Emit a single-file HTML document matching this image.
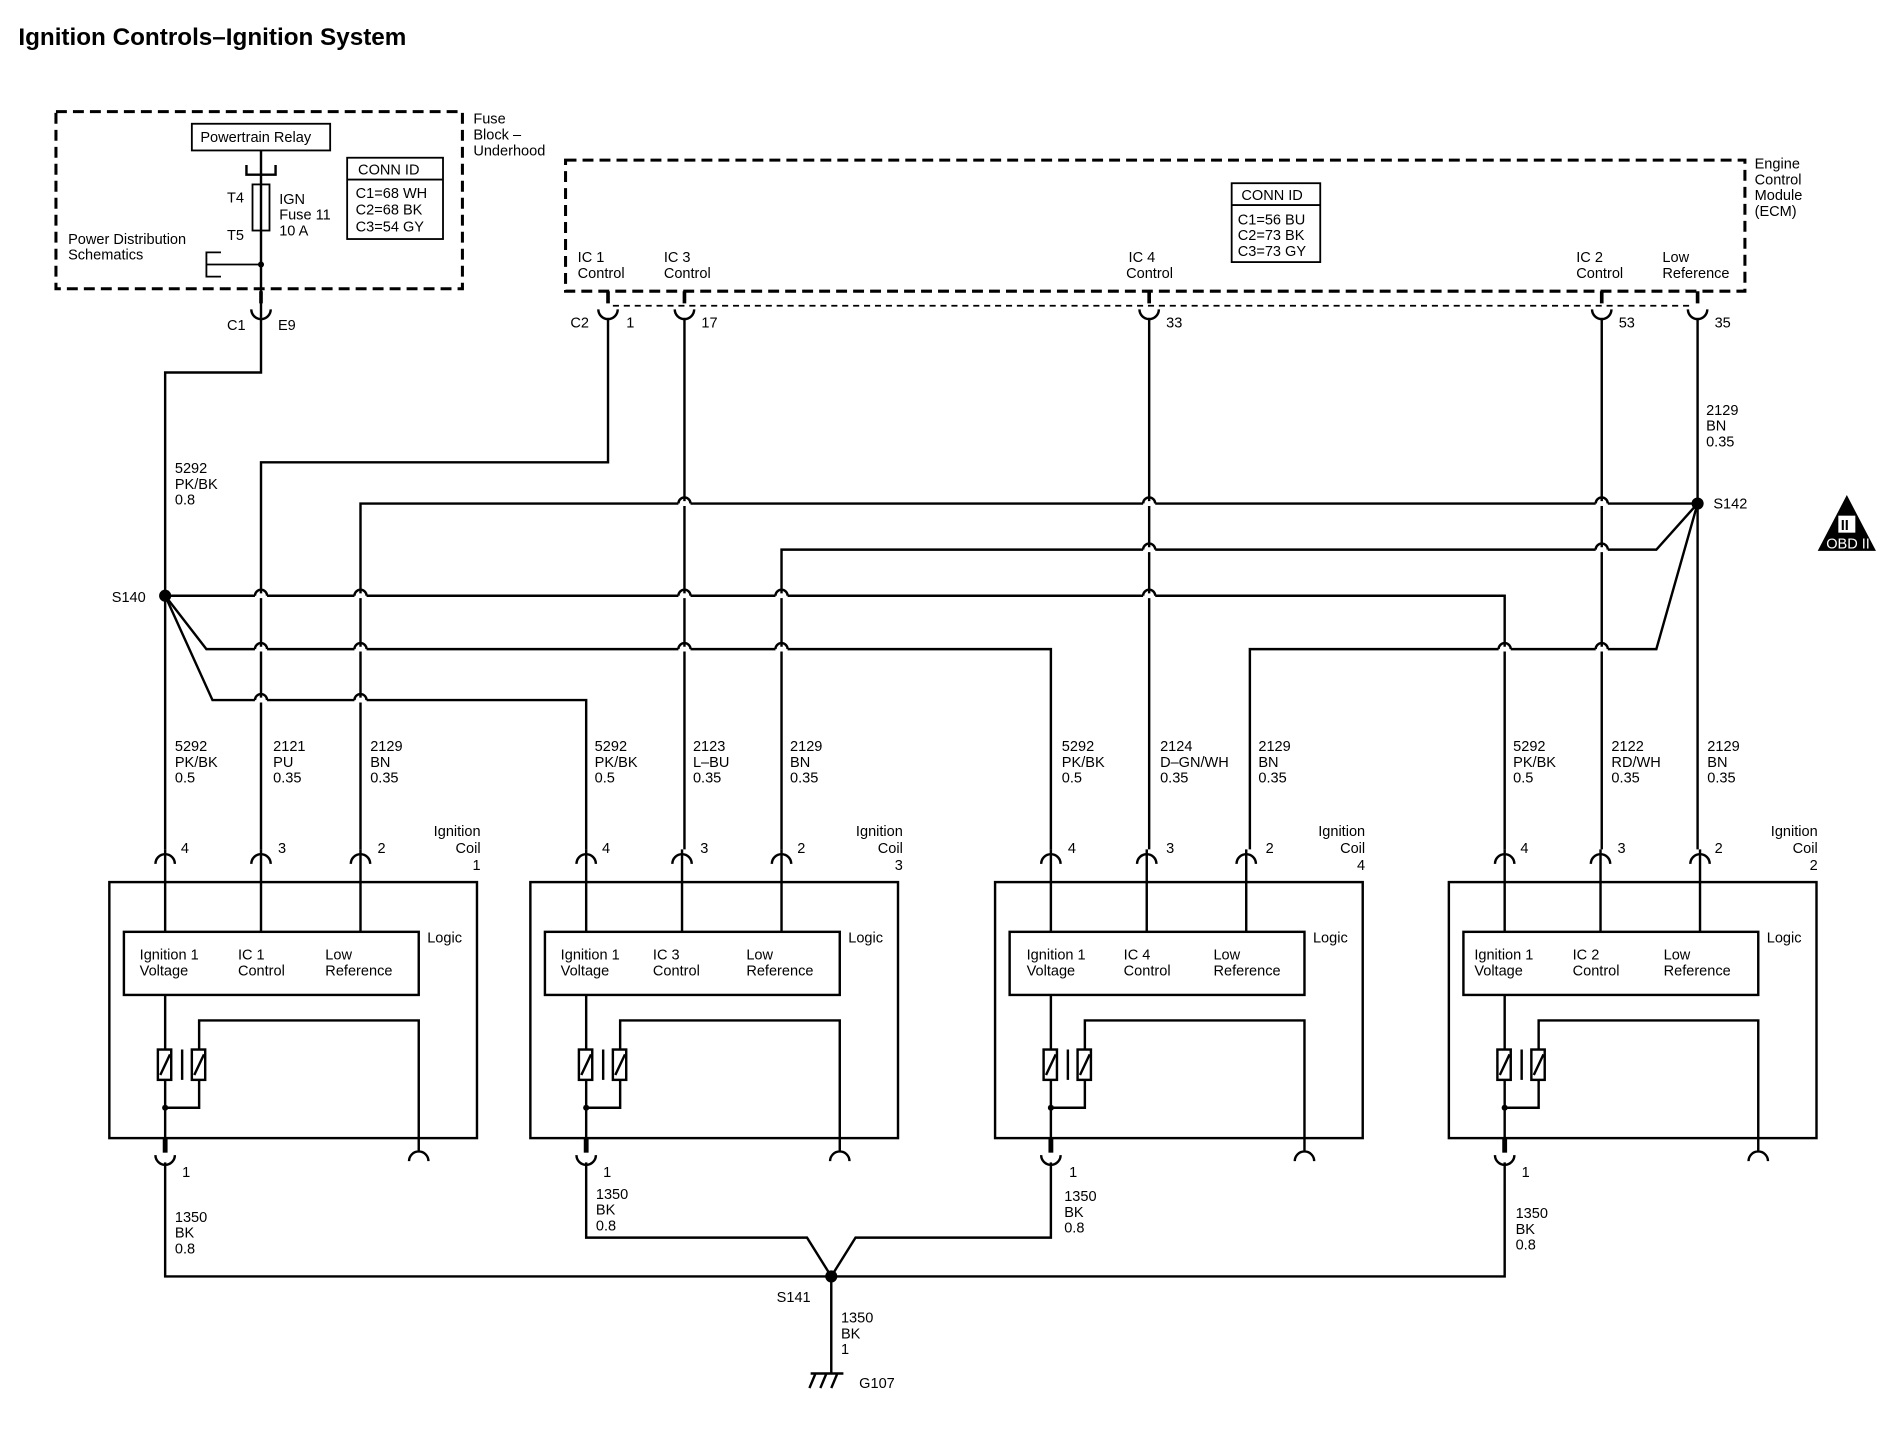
<!DOCTYPE html>
<html><head><meta charset="utf-8"><style>
html,body{margin:0;padding:0;background:#fff}
svg{display:block}
text{font-family:"Liberation Sans",sans-serif;font-size:12px;fill:#000}
.b{font-weight:bold}
</style></head><body>
<svg width="1904" height="1456" viewBox="0 0 1569 1200" xmlns="http://www.w3.org/2000/svg">
<g fill="none" stroke="#000" stroke-width="2">
<rect x="46" y="92" width="335" height="146" stroke-dasharray="9,5" stroke-width="2.5"/>
<rect x="466" y="132" width="972" height="108" stroke-dasharray="9,5" stroke-width="2.5"/>
<line x1="505" y1="252" x2="1395" y2="252" stroke-dasharray="5,4" stroke-width="1.5"/>
<rect x="158" y="102" width="114" height="22" stroke-width="1.5"/>
<rect x="286" y="130" width="79" height="67" stroke-width="1.5"/>
<line x1="286" y1="148" x2="365" y2="148" stroke-width="1.5"/>
<rect x="1015" y="151" width="73" height="65" stroke-width="1.5"/>
<line x1="1015" y1="169" x2="1088" y2="169" stroke-width="1.5"/>
<path d="M203 136 v8 h24 v-8 M215 124 v20"/>
<rect x="208" y="152" width="14" height="38" stroke-width="1.5"/>
<path d="M215 144 V262"/>
<path d="M215 218 H170 M182 208 h-12 v20 h12" stroke-width="1.5"/>
<path d="M207 255 a8 8 0 0 0 16 0 M493 255 a8 8 0 0 0 16 0 M556 255 a8 8 0 0 0 16 0 M939 255 a8 8 0 0 0 16 0 M1312 255 a8 8 0 0 0 16 0 M1391 255 a8 8 0 0 0 16 0"/>
<path d="M215 240 V250 M501 240 V250 M564 240 V250 M947 240 V250 M1320 240 V250 M1399 240 V250" stroke-width="3"/>
<path d="M215 262 V307 H136 V700"/>
<path d="M501 262 V381 H215 V700"/>
<path d="M564 262 V700"/>
<path d="M947 262 V700"/>
<path d="M1320 262 V700"/>
<path d="M1399 262 V700"/>
<path d="M1399 415 H297 V700"/>
<path d="M1399 415 L1365 453 H644 V700"/>
<path d="M1399 415 L1365 535 H1030 V700"/>
<path d="M136 491 H1240 V700"/>
<path d="M136 491 L170 535 H866 V700"/>
<path d="M136 491 L175 577 H483 V700"/>
</g>
<g fill="none">
<g stroke="#fff" stroke-width="4">
<path d="M559 415h10M942 415h10M1315 415h10M942 453h10M1315 453h10M210 491h10M292 491h10M559 491h10M639 491h10M942 491h10M210 535h10M292 535h10M559 535h10M639 535h10M1235 535h10M1315 535h10M210 577h10M292 577h10"/>
</g>
<g stroke="#000" stroke-width="2">
<path d="M559 415a5 5 0 0 1 10 0M942 415a5 5 0 0 1 10 0M1315 415a5 5 0 0 1 10 0M942 453a5 5 0 0 1 10 0M1315 453a5 5 0 0 1 10 0M210 491a5 5 0 0 1 10 0M292 491a5 5 0 0 1 10 0M559 491a5 5 0 0 1 10 0M639 491a5 5 0 0 1 10 0M942 491a5 5 0 0 1 10 0M210 535a5 5 0 0 1 10 0M292 535a5 5 0 0 1 10 0M559 535a5 5 0 0 1 10 0M639 535a5 5 0 0 1 10 0M1235 535a5 5 0 0 1 10 0M1315 535a5 5 0 0 1 10 0M210 577a5 5 0 0 1 10 0M292 577a5 5 0 0 1 10 0"/>
</g>
</g>
<g fill="#000"><circle cx="136" cy="491" r="5"/><circle cx="1399" cy="415" r="5"/><circle cx="215" cy="218" r="2.5"/><circle cx="685" cy="1052" r="5"/></g>
<defs>
<g id="coil" fill="none" stroke="#000" stroke-width="2">
<path d="M-8 712 a8 8 0 0 1 16 0 M71 712 a8 8 0 0 1 16 0 M153 712 a8 8 0 0 1 16 0"/>
<path d="M0 700 V768 M79 700 V768 M161 700 V768"/>
<rect x="-46" y="727" width="303" height="211"/>
<rect x="-34" y="768" width="243" height="52"/>
<path d="M0 820 V865 M0 890 V942"/>
<rect x="-6" y="865" width="11" height="25"/>
<rect x="22" y="865" width="11" height="25"/>
<path d="M-4 886 L4 869 M24 886 L32 869 M14 865 V890"/>
<path d="M28 865 V841 H209 V950 M201 957 a8 8 0 0 1 16 0 M0 913 H28 V890"/>
<path d="M-8 952 a8 8 0 0 0 16 0" />
<path d="M0 938 V950" stroke-width="4"/>
<path d="M0 958 V975"/>
</g>
</defs>
<use href="#coil" x="136"/>
<use href="#coil" x="483"/>
<use href="#coil" x="866"/>
<use href="#coil" x="1240"/>
<g fill="#000"><circle cx="136" cy="913" r="2.5"/><circle cx="483" cy="913" r="2.5"/><circle cx="866" cy="913" r="2.5"/><circle cx="1240" cy="913" r="2.5"/></g>
<g fill="none" stroke="#000" stroke-width="2">
<path d="M136 975 V1052 H1240 V975"/>
<path d="M483 975 V1020 H665 L685 1052 L705 1020 H866 V975"/>
<path d="M685 1052 V1132 M668 1132 H695 M672 1132 l-5 12 M681 1132 l-5 12 M690 1132 l-5 12"/>
</g>
<path d="M1522 408 L1546 454 H1498 Z" fill="#000"/>
<rect x="1515" y="425" width="14" height="14" fill="#fff"/>
<text x="1517" y="437" font-size="11" class="b">II</text>
<text x="1505" y="452" font-size="8" style="fill:#fff">OBD II</text>

<text x="15" y="37" class="b" style="font-size:20px">Ignition Controls–Ignition System</text>
<text x="165" y="117">Powertrain Relay</text>
<text x="390" y="102">Fuse</text><text x="390" y="115">Block –</text><text x="390" y="128">Underhood</text>
<text x="295" y="144">CONN ID</text><text x="293" y="163">C1=68 WH</text><text x="293" y="177">C2=68 BK</text><text x="293" y="191">C3=54 GY</text>
<text x="187" y="167">T4</text><text x="187" y="198">T5</text>
<text x="230" y="168">IGN</text><text x="230" y="181">Fuse 11</text><text x="230" y="194">10 A</text>
<text x="56" y="201">Power Distribution</text><text x="56" y="214">Schematics</text>
<text x="187" y="272">C1</text><text x="229" y="272">E9</text>
<text x="1023" y="165">CONN ID</text><text x="1020" y="185">C1=56 BU</text><text x="1020" y="198">C2=73 BK</text><text x="1020" y="211">C3=73 GY</text>
<text x="1446" y="139">Engine</text><text x="1446" y="152">Control</text><text x="1446" y="165">Module</text><text x="1446" y="178">(ECM)</text>
<text x="476" y="216">IC 1</text><text x="476" y="229">Control</text>
<text x="547" y="216">IC 3</text><text x="547" y="229">Control</text>
<text x="930" y="216">IC 4</text><text x="928" y="229">Control</text>
<text x="1299" y="216">IC 2</text><text x="1299" y="229">Control</text>
<text x="1370" y="216">Low</text><text x="1370" y="229">Reference</text>
<text x="470" y="270">C2</text><text x="516" y="270">1</text><text x="578" y="270">17</text><text x="961" y="270">33</text><text x="1334" y="270">53</text><text x="1413" y="270">35</text>
<text x="144" y="390">5292</text><text x="144" y="403">PK/BK</text><text x="144" y="416">0.8</text>
<text x="1406" y="342">2129</text><text x="1406" y="355">BN</text><text x="1406" y="368">0.35</text>
<text x="1412" y="419">S142</text><text x="92" y="496">S140</text>
<g>
<text x="144" y="619">5292</text><text x="144" y="632">PK/BK</text><text x="144" y="645">0.5</text>
<text x="225" y="619">2121</text><text x="225" y="632">PU</text><text x="225" y="645">0.35</text>
<text x="305" y="619">2129</text><text x="305" y="632">BN</text><text x="305" y="645">0.35</text>
<text x="490" y="619">5292</text><text x="490" y="632">PK/BK</text><text x="490" y="645">0.5</text>
<text x="571" y="619">2123</text><text x="571" y="632">L–BU</text><text x="571" y="645">0.35</text>
<text x="651" y="619">2129</text><text x="651" y="632">BN</text><text x="651" y="645">0.35</text>
<text x="875" y="619">5292</text><text x="875" y="632">PK/BK</text><text x="875" y="645">0.5</text>
<text x="956" y="619">2124</text><text x="956" y="632">D–GN/WH</text><text x="956" y="645">0.35</text>
<text x="1037" y="619">2129</text><text x="1037" y="632">BN</text><text x="1037" y="645">0.35</text>
<text x="1247" y="619">5292</text><text x="1247" y="632">PK/BK</text><text x="1247" y="645">0.5</text>
<text x="1328" y="619">2122</text><text x="1328" y="632">RD/WH</text><text x="1328" y="645">0.35</text>
<text x="1407" y="619">2129</text><text x="1407" y="632">BN</text><text x="1407" y="645">0.35</text>
</g>
<g text-anchor="end">
<text x="396" y="689">Ignition</text><text x="396" y="703">Coil</text><text x="396" y="717">1</text>
<text x="744" y="689">Ignition</text><text x="744" y="703">Coil</text><text x="744" y="717">3</text>
<text x="1125" y="689">Ignition</text><text x="1125" y="703">Coil</text><text x="1125" y="717">4</text>
<text x="1498" y="689">Ignition</text><text x="1498" y="703">Coil</text><text x="1498" y="717">2</text>
</g>
<g>
<text x="149" y="703">4</text><text x="229" y="703">3</text><text x="311" y="703">2</text>
<text x="496" y="703">4</text><text x="577" y="703">3</text><text x="657" y="703">2</text>
<text x="880" y="703">4</text><text x="961" y="703">3</text><text x="1043" y="703">2</text>
<text x="1253" y="703">4</text><text x="1333" y="703">3</text><text x="1413" y="703">2</text>
<text x="352" y="777">Logic</text><text x="699" y="777">Logic</text><text x="1082" y="777">Logic</text><text x="1456" y="777">Logic</text>
<text x="115" y="791">Ignition 1</text><text x="115" y="804">Voltage</text><text x="196" y="791">IC 1</text><text x="196" y="804">Control</text><text x="268" y="791">Low</text><text x="268" y="804">Reference</text>
<text x="462" y="791">Ignition 1</text><text x="462" y="804">Voltage</text><text x="538" y="791">IC 3</text><text x="538" y="804">Control</text><text x="615" y="791">Low</text><text x="615" y="804">Reference</text>
<text x="846" y="791">Ignition 1</text><text x="846" y="804">Voltage</text><text x="926" y="791">IC 4</text><text x="926" y="804">Control</text><text x="1000" y="791">Low</text><text x="1000" y="804">Reference</text>
<text x="1215" y="791">Ignition 1</text><text x="1215" y="804">Voltage</text><text x="1296" y="791">IC 2</text><text x="1296" y="804">Control</text><text x="1371" y="791">Low</text><text x="1371" y="804">Reference</text>
<text x="150" y="970">1</text><text x="497" y="970">1</text><text x="881" y="970">1</text><text x="1254" y="970">1</text>
<text x="144" y="1007">1350</text><text x="144" y="1020">BK</text><text x="144" y="1033">0.8</text>
<text x="491" y="988">1350</text><text x="491" y="1001">BK</text><text x="491" y="1014">0.8</text>
<text x="877" y="990">1350</text><text x="877" y="1003">BK</text><text x="877" y="1016">0.8</text>
<text x="1249" y="1004">1350</text><text x="1249" y="1017">BK</text><text x="1249" y="1030">0.8</text>
<text x="640" y="1073">S141</text>
<text x="693" y="1090">1350</text><text x="693" y="1103">BK</text><text x="693" y="1116">1</text>
<text x="708" y="1144">G107</text>
</g>
</svg>
</body></html>
